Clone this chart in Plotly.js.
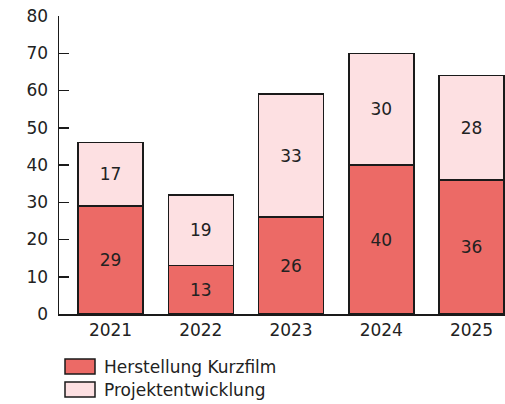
<!DOCTYPE html>
<html><head><meta charset="utf-8">
<script src="https://cdn.plot.ly/plotly-3.0.1.min.js"></script>
<style>html,body{margin:0;padding:0;background:#fff;}#chart{width:505px;height:404px;}</style>
</head><body><div id="chart"></div>
<script>
const years = ['2021','2022','2023','2024','2025'];
const herstellung = [29, 13, 26, 40, 36];
const projekt = [17, 19, 33, 30, 28];
const seriesNames = ['Herstellung Kurzfilm', 'Projektentwicklung'];
const colors = ['#EC6A66', '#FDE0E2'];
const yTicks = [0,10,20,30,40,50,60,70,80];

const FONT = '"DejaVu Sans", sans-serif';
const FS = 17;
function barTrace(vals, name, color){
  return {
    type:'bar', x: years, y: vals, name: name,
    marker:{color: color, line:{color:'#1a1a1a', width:1.5}},
    text: vals.map(String), textposition:'inside', insidetextanchor:'middle',
    textfont:{family: FONT, size:FS, color:'#222'},
    constraintext:'none', hoverinfo:'skip'
  };
}
const data = [barTrace(herstellung, seriesNames[0], colors[0]), barTrace(projekt, seriesNames[1], colors[1])];

const shapes = [], annotations = [];
seriesNames.forEach((n,i)=>{
  const y0 = 360 + i*23;
  shapes.push({type:'rect', xsizemode:'pixel', ysizemode:'pixel', xref:'paper', yref:'paper', xanchor:0, yanchor:0,
    x0: 65-59, x1: 95-59, y0: -(y0-315), y1: -(y0+15-315), fillcolor: colors[i], line:{color:'#1a1a1a', width:1.5}});
  annotations.push({xref:'paper', yref:'paper', x:0, y:0, xshift: 102-59, yshift: -(y0+7.5-315),
    xanchor:'left', yanchor:'middle', showarrow:false, text:n, font:{family:FONT, size:FS, color:'#222'}});
});

const layout = {
  width:505, height:404,
  margin:{l:59, r:0, t:16, b:89.5, pad:0},
  paper_bgcolor:'#fff', plot_bgcolor:'#fff',
  barmode:'stack', bargap:0.28, showlegend:false,
  font:{family:FONT, size:FS, color:'#222'},
  xaxis:{type:'category', range:[-0.571, 4.371], showline:true, linecolor:'#1a1a1a', linewidth:1.5,
    ticks:'', showgrid:false, zeroline:false, tickfont:{family:FONT, size:FS, color:'#222'}, fixedrange:true},
  yaxis:{range:[0,80], tickvals:yTicks, ticktext:yTicks.map(String), showline:true, linecolor:'#1a1a1a', linewidth:1.5,
    ticks:'inside', ticklen:10, tickwidth:1.5, tickcolor:'#1a1a1a', showgrid:false, zeroline:false,
    tickfont:{family:FONT, size:FS, color:'#222'}, ticklabelstandoff:6, fixedrange:true},
  shapes: shapes, annotations: annotations
};
Plotly.newPlot('chart', data, layout, {displayModeBar:false, staticPlot:true});
</script></body></html>
